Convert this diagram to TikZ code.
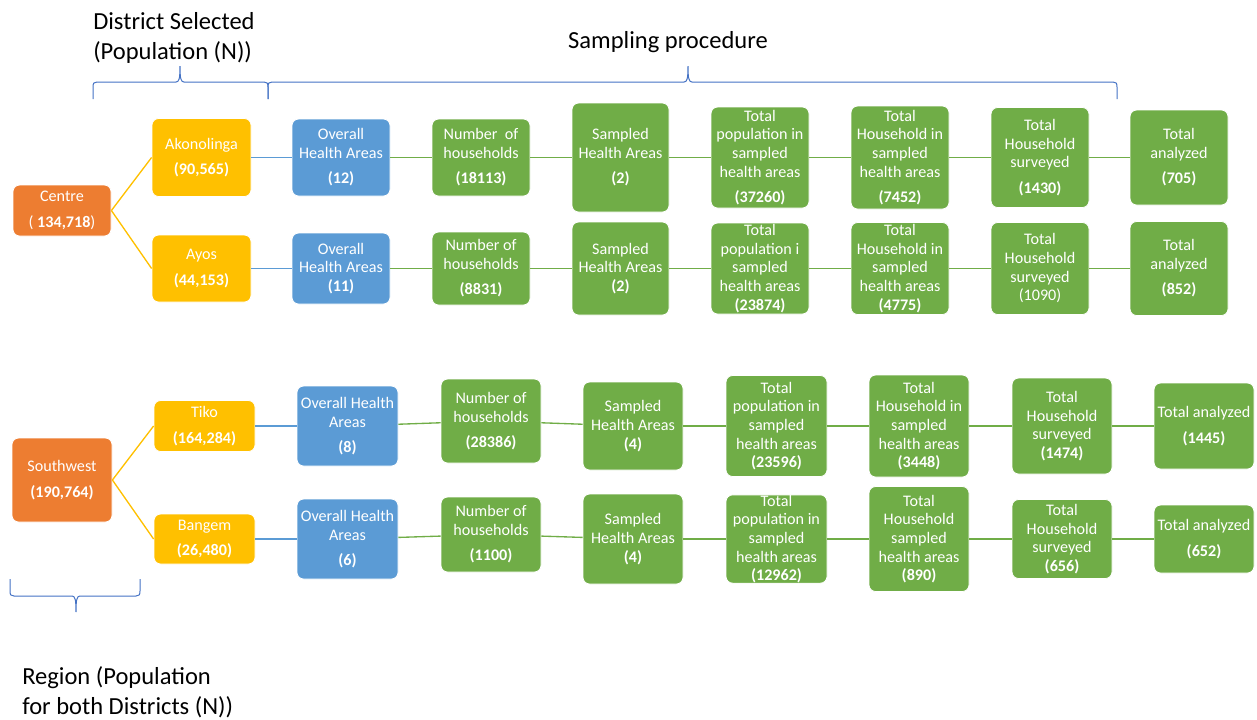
\documentclass[tikz,border=0pt]{standalone}
\usepackage{fontspec}
\setmainfont{Carlito}
\usepackage{xcolor}
\usepackage{tikz}
\definecolor{rgor}{HTML}{ED7D31}
\definecolor{dsyl}{HTML}{FFC000}
\definecolor{habl}{HTML}{5B9BD5}
\definecolor{spgr}{HTML}{70AD47}
\definecolor{brbl}{HTML}{4472C4}
\tikzset{
  bx/.style={rounded corners=5pt,draw=white,line width=0.6pt,text=white,align=center,inner sep=0pt,font=\fontsize{12.1}{14}\selectfont},
  sz/.style 2 args={minimum width=#1*0.75pt,minimum height=#2*0.75pt},
  rg/.style={bx,fill=rgor},
  ds/.style={bx,fill=dsyl},
  ha/.style={bx,fill=habl},
  sp/.style={bx,fill=spgr},
  yl/.style={dsyl,line width=1pt},
  bl/.style={habl,line width=1pt},
  gn/.style={spgr,line width=1pt},
  brc/.style={brbl,line width=0.75pt},
  hd/.style={font=\fontsize{18.4}{22.5}\selectfont,inner sep=0pt}
}
\newcommand{\nl}{\\[5pt]}
\newcommand{\obrace}[5]{%
  \draw[brc] ({#1},{#4+17*(#5)}) -- ({#1},{#4+5*(#5)}) .. controls ({#1},{#4+1*(#5)}) and ({#1+1},{#4}) .. ({#1+4},{#4})
    -- ({#2-4},{#4}) .. controls ({#2-1},{#4}) and ({#2},{#4-3*(#5)}) .. ({#2},{#4-16*(#5)})
    .. controls ({#2},{#4-3*(#5)}) and ({#2+1},{#4}) .. ({#2+4},{#4})
    -- ({#3-4},{#4}) .. controls ({#3-1},{#4}) and ({#3},{#4+1*(#5)}) .. ({#3},{#4+5*(#5)}) -- ({#3},{#4+17*(#5)});}

\begin{document}
\begin{tikzpicture}[x=0.75pt,y=-0.75pt]
\useasboundingbox (0,0) rectangle (1257,719);
\node[hd,anchor=west,align=left] (dsel) at (93,38) {District Selected\\(Population (N))};
\node[hd] (sproc) at (668,42) {Sampling procedure};
\node[hd,anchor=west,align=left] (rpop) at (22,692) {Region (Population\\for both Districts (N))};
\obrace{93}{180}{268}{82}{1}
\obrace{268}{688}{1117}{82}{1}
\obrace{10}{76}{140}{596}{-1}

\node[rg,sz={98}{51}] (ctr) at (62,210.5) {Centre\nl( \textbf{134,718})};
\node[ds,sz={99}{78}] (ako) at (201.5,157.5) {Akonolinga\nl\textbf{(90,565)}};
\node[ds,sz={99}{67}] (ayo) at (201.5,268.5) {Ayos\nl\textbf{(44,153)}};
\node[ha,sz={98}{77}] (oha1) at (341,157.5) {Overall\\Health Areas\nl\textbf{(12)}};
\node[ha,sz={98}{71}] (oha2) at (341,268.5) {Overall\\Health Areas\\\textbf{(11)}};
\node[sp,sz={98}{77}] (nh1) at (481,157.5) {Number\ \ of\\households\nl\textbf{(18113)}};
\node[sp,sz={98}{73}] (nh2) at (481,268.5) {Number of\\households\nl\textbf{(8831)}};
\node[sp,sz={97}{109}] (sha1) at (620.5,157.5) {Sampled\\Health Areas\nl\textbf{(2)}};
\node[sp,sz={97}{93}] (sha2) at (620.5,268.5) {Sampled\\Health Areas\\\textbf{(2)}};
\node[sp,sz={98}{101}] (tp1) at (760,157.5) {Total\\population in\\sampled\\health areas\nl\textbf{(37260)}};
\node[sp,sz={98}{91}] (tp2) at (760,268.5) {Total\\population i\\sampled\\health areas\\\textbf{(23874)}};
\node[sp,sz={98}{103}] (th1) at (900,157.5) {Total\\Household in\\sampled\\health areas\nl\textbf{(7452)}};
\node[sp,sz={98}{92}] (th2) at (900,268.5) {Total\\Household in\\sampled\\health areas\\\textbf{(4775)}};
\node[sp,sz={98}{100}] (ts1) at (1040,157.5) {Total\\Household\\surveyed\nl\textbf{(1430)}};
\node[sp,sz={98}{92}] (ts2) at (1040,268.5) {Total\\Household\\surveyed\\(1090)};
\node[sp,sz={98}{95}] (ta1) at (1179,157.5) {Total\\analyzed\nl\textbf{(705)}};
\node[sp,sz={98}{94}] (ta2) at (1179,268.5) {Total\\analyzed\nl\textbf{(852)}};
\draw[yl] (ctr.east) -- (ako.west); \draw[yl] (ctr.east) -- (ayo.west);
\draw[bl] (ako) -- (oha1); \draw[bl] (ayo) -- (oha2);
\draw[gn] (oha1) -- (nh1); \draw[gn] (nh1) -- (sha1); \draw[gn] (sha1) -- (tp1); \draw[gn] (tp1) -- (th1); \draw[gn] (th1) -- (ts1); \draw[gn] (ts1) -- (ta1);
\draw[gn] (oha2) -- (nh2); \draw[gn] (nh2) -- (sha2); \draw[gn] (sha2) -- (tp2); \draw[gn] (tp2) -- (th2); \draw[gn] (th2) -- (ts2); \draw[gn] (ts2) -- (ta2);

\node[rg,sz={100}{84}] (sw) at (62,480) {Southwest\nl\textbf{(190,764)}};
\node[ds,sz={101}{51}] (tik) at (204.5,426) {Tiko\nl\textbf{(164,284)}};
\node[ds,sz={101}{50}] (bgm) at (204.5,539) {Bangem\nl\textbf{(26,480)}};
\node[ha,sz={101}{80}] (oha3) at (347.5,426) {Overall Health\\Areas\nl\textbf{(8)}};
\node[ha,sz={101}{80}] (oha4) at (347.5,539) {Overall Health\\Areas\nl\textbf{(6)}};
\node[sp,sz={100}{84}] (nh3) at (491,421) {Number of\\households\nl\textbf{(28386)}};
\node[sp,sz={100}{75}] (nh4) at (491,534.5) {Number of\\households\nl\textbf{(1100)}};
\node[sp,sz={100}{88}] (sha3) at (633,426) {Sampled\\Health Areas\\\textbf{(4)}};
\node[sp,sz={100}{90}] (sha4) at (633,539) {Sampled\\Health Areas\\\textbf{(4)}};
\node[sp,sz={101}{101}] (tp3) at (776.5,426) {Total\\population in\\sampled\\health areas\\\textbf{(23596)}};
\node[sp,sz={101}{87}] (tp4) at (776.5,539) {Total\\population in\\sampled\\health areas\\\textbf{(12962)}};
\node[sp,sz={100}{102}] (th3) at (919,426) {Total\\Household in\\sampled\\health areas\\\textbf{(3448)}};
\node[sp,sz={100}{105}] (th4) at (919,539) {Total\\Household\\sampled\\health areas\\\textbf{(890)}};
\node[sp,sz={100}{96}] (ts3) at (1062,426) {Total\\Household\\surveyed\\\textbf{(1474)}};
\node[sp,sz={100}{79}] (ts4) at (1062,539) {Total\\Household\\surveyed\\\textbf{(656)}};
\node[sp,sz={100}{86}] (ta3) at (1204,426) {Total analyzed\nl\textbf{(1445)}};
\node[sp,sz={100}{68}] (ta4) at (1204,539) {Total analyzed\nl\textbf{(652)}};
\draw[yl] (sw.east) -- (tik.west); \draw[yl] (sw.east) -- (bgm.west);
\draw[bl] (tik) -- (oha3); \draw[bl] (bgm) -- (oha4);
\draw[gn] (oha3) -- (nh3); \draw[gn] (nh3) -- (sha3); \draw[gn] (sha3) -- (tp3); \draw[gn] (tp3) -- (th3); \draw[gn] (th3) -- (ts3); \draw[gn] (ts3) -- (ta3);
\draw[gn] (oha4) -- (nh4); \draw[gn] (nh4) -- (sha4); \draw[gn] (sha4) -- (tp4); \draw[gn] (tp4) -- (th4); \draw[gn] (th4) -- (ts4); \draw[gn] (ts4) -- (ta4);
\end{tikzpicture}
\end{document}
